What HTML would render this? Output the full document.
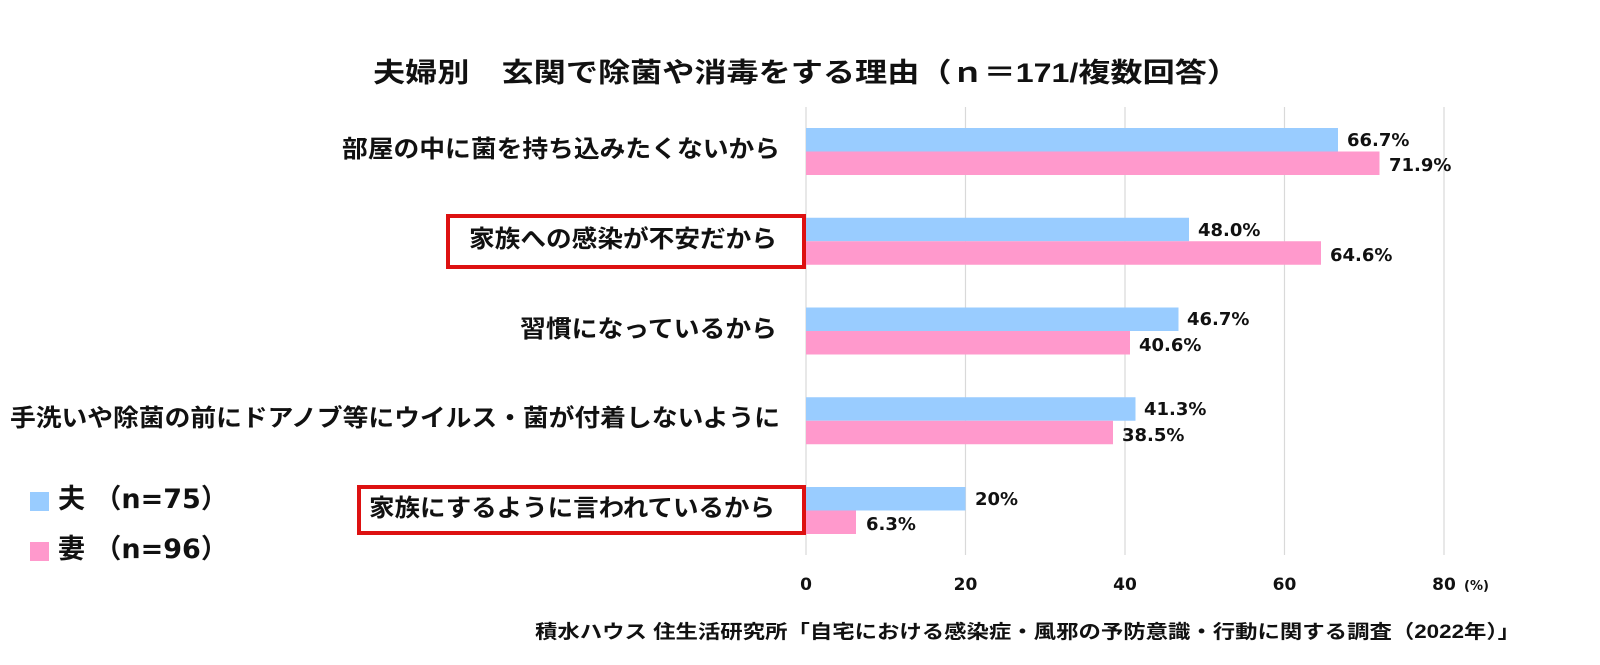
<!DOCTYPE html>
<html><head><meta charset="utf-8"><style>
html,body{margin:0;padding:0;background:#fff;}
svg{display:block;}
text{font-family:"Liberation Sans","Noto Sans CJK JP",sans-serif;font-weight:bold;fill:#111;}
.n{font-family:"DejaVu Sans","Noto Sans CJK JP",sans-serif;}
</style></head><body>
<svg width="1600" height="665" viewBox="0 0 1600 665" xmlns="http://www.w3.org/2000/svg">
<rect width="1600" height="665" fill="#fff"/>
<text x="806" y="82" font-size="27" text-anchor="middle" textLength="866" lengthAdjust="spacingAndGlyphs">夫婦別　玄関で除菌や消毒をする理由（ｎ＝171/複数回答）</text>
<g stroke="#d9d9d9" stroke-width="1.2">
<line x1="806" y1="107" x2="806" y2="555"/>
<line x1="965.5" y1="107" x2="965.5" y2="555"/>
<line x1="1125" y1="107" x2="1125" y2="555"/>
<line x1="1284.5" y1="107" x2="1284.5" y2="555"/>
<line x1="1444" y1="107" x2="1444" y2="555"/>
</g>
<g>
<rect x="806" y="128" width="532" height="23.5" fill="#99ccff"/>
<rect x="806" y="151.5" width="573.5" height="23.5" fill="#ff99cc"/>
<rect x="806" y="217.75" width="383" height="23.5" fill="#99ccff"/>
<rect x="806" y="241.25" width="515" height="23.5" fill="#ff99cc"/>
<rect x="806" y="307.5" width="372.5" height="23.5" fill="#99ccff"/>
<rect x="806" y="331" width="324" height="23.5" fill="#ff99cc"/>
<rect x="806" y="397.25" width="329.5" height="23.5" fill="#99ccff"/>
<rect x="806" y="420.75" width="307" height="23.5" fill="#ff99cc"/>
<rect x="806" y="487" width="159.5" height="23.5" fill="#99ccff"/>
<rect x="806" y="510.5" width="50" height="23.5" fill="#ff99cc"/>
</g>
<g font-size="18">
<text class="n" x="1347" y="146">66.7%</text>
<text class="n" x="1389" y="171">71.9%</text>
<text class="n" x="1198" y="236">48.0%</text>
<text class="n" x="1330" y="261">64.6%</text>
<text class="n" x="1187" y="325">46.7%</text>
<text class="n" x="1139" y="351">40.6%</text>
<text class="n" x="1144" y="415">41.3%</text>
<text class="n" x="1122" y="441">38.5%</text>
<text class="n" x="975" y="505">20%</text>
<text class="n" x="866" y="530">6.3%</text>
</g>
<g font-size="24" text-anchor="end">
<text x="780" y="157" textLength="438" lengthAdjust="spacingAndGlyphs">部屋の中に菌を持ち込みたくないから</text>
<text x="777" y="247" textLength="308" lengthAdjust="spacingAndGlyphs">家族への感染が不安だから</text>
<text x="777" y="337" textLength="257" lengthAdjust="spacingAndGlyphs">習慣になっているから</text>
<text x="780" y="426" textLength="770" lengthAdjust="spacingAndGlyphs">手洗いや除菌の前にドアノブ等にウイルス・菌が付着しないように</text>
<text x="775" y="516" textLength="406" lengthAdjust="spacingAndGlyphs">家族にするように言われているから</text>
</g>
<rect x="448" y="216" width="356" height="51" fill="none" stroke="#dd1111" stroke-width="4"/>
<rect x="359" y="487" width="445" height="46" fill="none" stroke="#dd1111" stroke-width="4"/>
<g font-size="17" text-anchor="middle">
<text class="n" x="806" y="590">0</text>
<text class="n" x="965.5" y="590">20</text>
<text class="n" x="1125" y="590">40</text>
<text class="n" x="1284.5" y="590">60</text>
<text class="n" x="1444" y="590">80</text>
</g>
<text class="n" x="1464" y="590" font-size="13">(%)</text>
<rect x="30" y="492" width="19" height="19" fill="#99ccff"/>
<rect x="30" y="542" width="19" height="19" fill="#ff99cc"/>
<text class="n" x="58" y="508" font-size="27">夫 （n=75）</text>
<text class="n" x="58" y="558" font-size="27">妻 （n=96）</text>
<text x="1520" y="638" font-size="19" text-anchor="end" textLength="985" lengthAdjust="spacingAndGlyphs">積水ハウス 住生活研究所「自宅における感染症・風邪の予防意識・行動に関する調査（2022年）」</text>
</svg>
</body></html>
